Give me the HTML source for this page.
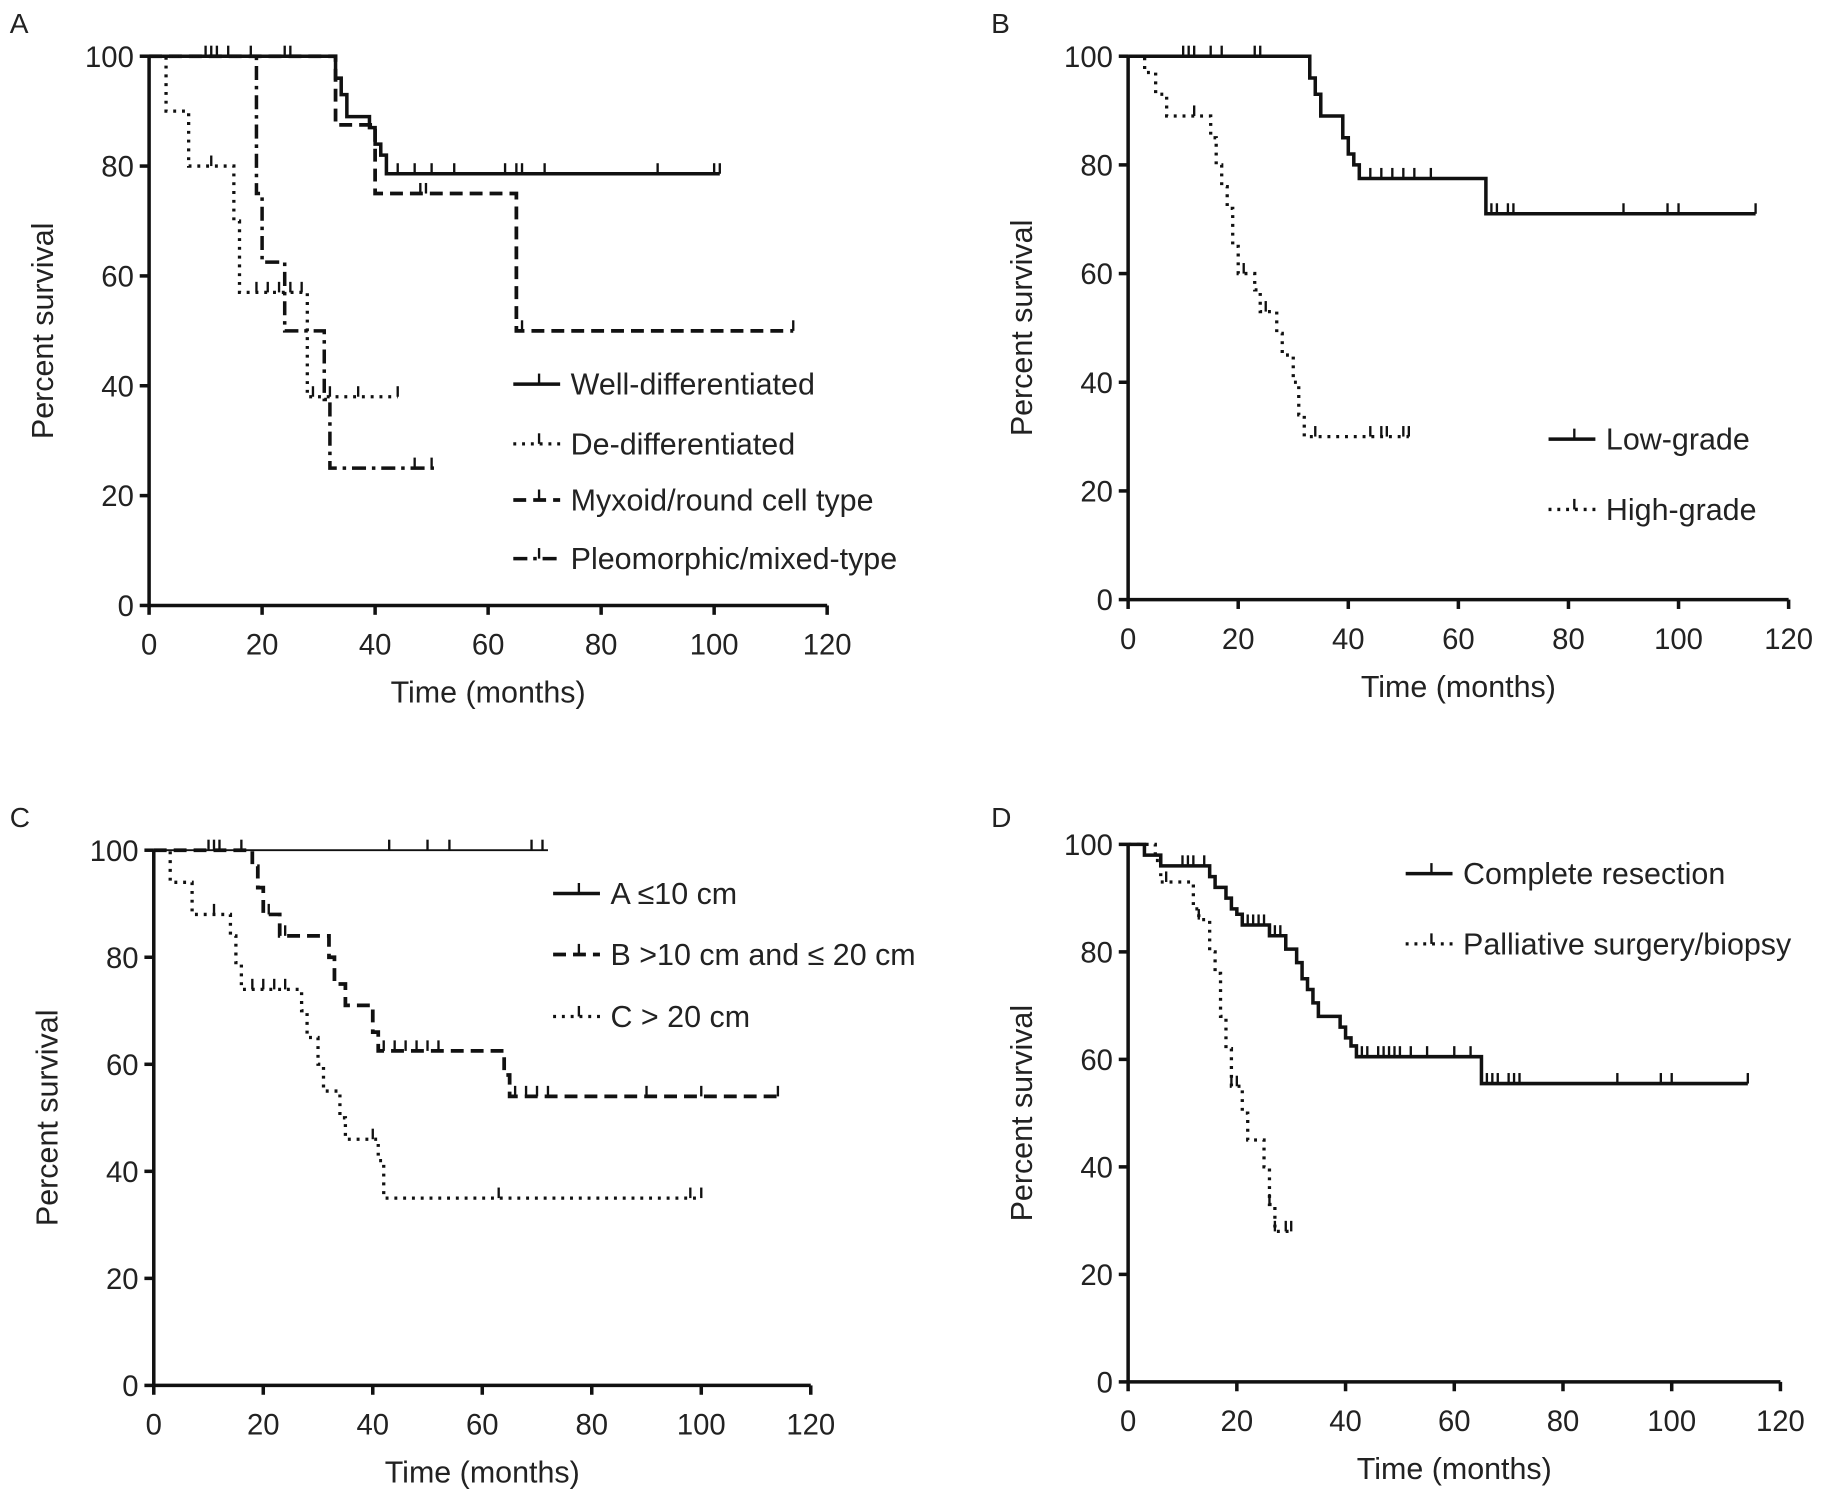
<!DOCTYPE html>
<html><head><meta charset="utf-8"><style>
html,body{margin:0;padding:0;background:#fff}
svg{display:block}
text{font-family:"Liberation Sans",Arial,sans-serif;fill:#222}
</style></head><body>
<svg id="fig" width="1837" height="1499" viewBox="0 0 1568 1280" xmlns="http://www.w3.org/2000/svg"></svg>
<script>
// ---- Panel A data ----
const aWellT=[0,33,34,35,39,40,41,42]; const aWellS=[100,96,93,89,87,84,82,78.6]; const aWellEnd=101;
const aWellC=[10,11,12,14,18,24,25,44,47,50,54,63,65,66,70,90,100,101];
const aDeT=[0,3,7,15,16,28]; const aDeS=[100,90,80,70,57,38]; const aDeEnd=44;
const aDeC=[11,19,21,23,25,27,29,32,37,44];
const aMyxT=[0,33,40,65]; const aMyxS=[100,87.5,75,50]; const aMyxEnd=114;
const aMyxC=[48,49,66,114];
const aPleoT=[0,19,20,24,31,32]; const aPleoS=[100,75,62.5,50,37.5,25]; const aPleoEnd=51;
const aPleoC=[47,50];
// ---- Panel B data ----
const bLowT=[0,33,34,35,39,40,41,42,65]; const bLowS=[100,96,93,89,85,82,80,77.5,71]; const bLowEnd=114;
const bLowC=[10,11,12,15,17,23,24,44,46,48,50,52,55,66,67,69,70,90,98,100,114];
const bHighT=[0,3,5,7,15,16,17,18,19,20,23,24,27,28,30,31,32]; const bHighS=[100,97,93,89,85,80,76,72,65,60,57,53,49,45,40,34,30]; const bHighEnd=51;
const bHighC=[12,21,25,34,44,46,47,50,51];
// ---- Panel C data ----
const cAT=[0]; const cAS=[100]; const cAEnd=72; const cAC=[10,11,12,16,43,50,54,69,71];
const cBT=[0,18,19,20,23,32,33,35,40,41,64,65]; const cBS=[100,97,93,88,84,80,75,71,66,62.5,58,54]; const cBEnd=114;
const cBC=[21,24,42,44,46,48,50,52,66,68,70,72,90,100,114];
const cCT=[0,3,7,14,15,16,27,28,30,31,34,35,41,42]; const cCS=[100,94,88,84,79,74,70,65,60,55,50,46,42,35]; const cCEnd=100;
const cCC=[11,18,20,22,24,40,63,98,100];
// ---- Panel D data ----
const dCompT=[0,3,6,15,16,18,19,20,21,26,29,31,32,33,34,35,39,40,41,42,65]; const dCompS=[100,98,96,94,92,90,88,87,85,83,80.5,78,75,73,70.5,68,66,64,62.5,60.5,55.5]; const dCompEnd=114;
const dCompC=[10,11,12,14,22,23,24,25,27,28,43,44,46,47,48,49,50,52,55,60,63,66,67,68,70,71,72,90,98,100,114];
const dPalT=[0,5,6,12,13,15,16,17,18,19,21,22,25,26,27]; const dPalS=[100,97,93,88,86,80,76,68,62,55,50,45,40,33,28]; const dPalEnd=30;
const dPalC=[7,13,19,20,26,27,29,30];
const xTicks=[0,20,40,60,80,100,120]; const yTicks=[0,20,40,60,80,100];

const NS="http://www.w3.org/2000/svg", svg=document.getElementById('fig');
function mk(tag,attrs,parent,txt){const e=document.createElementNS(NS,tag);for(const k in attrs)e.setAttribute(k,attrs[k]);if(txt!==undefined)e.textContent=txt;(parent||svg).appendChild(e);return e;}
const STY={solid:{d:"none",w:3},thin:{d:"none",w:1.6},dot:{d:"2.5 5",w:2.8},dash:{d:"11 6",w:3.2},dashdot:{d:"12 5 3 5",w:3}};
function panel(p){
  const g=mk('g',{});  
  const X=v=>p.x0+(p.x1-p.x0)*v/120, Y=v=>p.y0+(p.y1-p.y0)*(100-v)/100;
  const lab=mk('text',{x:p.lx,y:p.ly,'font-size':24},g,p.id);  
  const xa=mk('line',{x1:p.x0,x2:p.x1,y1:p.y1,y2:p.y1,stroke:'#111','stroke-width':3},g);  
  const ya=mk('line',{x1:p.x0,x2:p.x0,y1:p.y0,y2:p.y1,stroke:'#111','stroke-width':3},g);  
  xTicks.forEach(t=>{mk('line',{x1:X(t),x2:X(t),y1:p.y1,y2:p.y1+8,stroke:'#111','stroke-width':3},g);
    const tl=mk('text',{x:X(t),y:p.y1+42,'font-size':25,'text-anchor':'middle'},g,t);  });
  yTicks.forEach(t=>{mk('line',{x1:p.x0-8,x2:p.x0,y1:Y(t),y2:Y(t),stroke:'#111','stroke-width':3},g);
    const tl=mk('text',{x:p.x0-13,y:Y(t)+9,'font-size':25,'text-anchor':'end'},g,t);  });
  const xt=mk('text',{x:(p.x0+p.x1)/2,y:p.y1+83,'font-size':26,'text-anchor':'middle'},g,'Time (months)');  
  const yc=(p.y0+p.y1)/2, yx=p.x0-82;
  const yt=mk('text',{x:yx,y:yc,'font-size':26,'text-anchor':'middle',transform:`rotate(-90 ${yx} ${yc})`},g,'Percent survival');  
  p.series.forEach(s=>{
    const st=STY[s.style]; let d=`M${X(0)},${Y(100)}`;
    for(let i=1;i<s.t.length;i++){d+=` H${X(s.t[i])} V${Y(s.s[i])}`;}
    d+=` H${X(s.end)}`;
    const path=mk('path',{d:d,fill:'none',stroke:'#111','stroke-width':st.w,'stroke-dasharray':st.d},g);
     
    s.c.forEach(c=>{let v=100;for(let i=0;i<s.t.length;i++) if(s.t[i]<=c) v=s.s[i];
      const tk=mk('line',{x1:X(c),x2:X(c),y1:Y(v),y2:Y(v)-9,stroke:'#111','stroke-width':2},g);
       });
    const lg=mk('g',{},g);  
    mk('line',{x1:s.lgx,x2:s.lgx+40,y1:s.lgy,y2:s.lgy,stroke:'#111','stroke-width':st.w===1.6?3:st.w,'stroke-dasharray':st.d},lg);
    mk('line',{x1:s.lgx+22,x2:s.lgx+22,y1:s.lgy,y2:s.lgy-9,stroke:'#111','stroke-width':2},lg);
    mk('text',{x:s.lgx+49,y:s.lgy+9,'font-size':26},lg,s.label);
  });
}
panel({id:'A',lx:8,ly:28,x0:127,x1:706,y0:48,y1:517,series:[
 {name:'well',t:aWellT,s:aWellS,end:aWellEnd,c:aWellC,style:'solid',label:'Well-differentiated',lgx:438,lgy:328},
 {name:'de',t:aDeT,s:aDeS,end:aDeEnd,c:aDeC,style:'dot',label:'De-differentiated',lgx:438,lgy:379},
 {name:'myxoid',t:aMyxT,s:aMyxS,end:aMyxEnd,c:aMyxC,style:'dash',label:'Myxoid/round cell type',lgx:438,lgy:427},
 {name:'pleo',t:aPleoT,s:aPleoS,end:aPleoEnd,c:aPleoC,style:'dashdot',label:'Pleomorphic/mixed-type',lgx:438,lgy:477}]});
panel({id:'B',lx:846,ly:28,x0:963,x1:1527,y0:48,y1:512,series:[
 {name:'low',t:bLowT,s:bLowS,end:bLowEnd,c:bLowC,style:'solid',label:'Low-grade',lgx:1322,lgy:375},
 {name:'high',t:bHighT,s:bHighS,end:bHighEnd,c:bHighC,style:'dot',label:'High-grade',lgx:1322,lgy:435}]});
panel({id:'C',lx:8,ly:706,x0:131,x1:692,y0:726,y1:1183,series:[
 {name:'a',t:cAT,s:cAS,end:cAEnd,c:cAC,style:'thin',label:'A ≤10 cm',lgx:472,lgy:763},
 {name:'b',t:cBT,s:cBS,end:cBEnd,c:cBC,style:'dash',label:'B >10 cm and ≤ 20 cm',lgx:472,lgy:815},
 {name:'c',t:cCT,s:cCS,end:cCEnd,c:cCC,style:'dot',label:'C > 20 cm',lgx:472,lgy:868}]});
panel({id:'D',lx:846,ly:706,x0:963,x1:1520,y0:721,y1:1180,series:[
 {name:'complete',t:dCompT,s:dCompS,end:dCompEnd,c:dCompC,style:'solid',label:'Complete resection',lgx:1200,lgy:746},
 {name:'palliative',t:dPalT,s:dPalS,end:dPalEnd,c:dPalC,style:'dot',label:'Palliative surgery/biopsy',lgx:1200,lgy:806}]});
</script>
</body></html>
